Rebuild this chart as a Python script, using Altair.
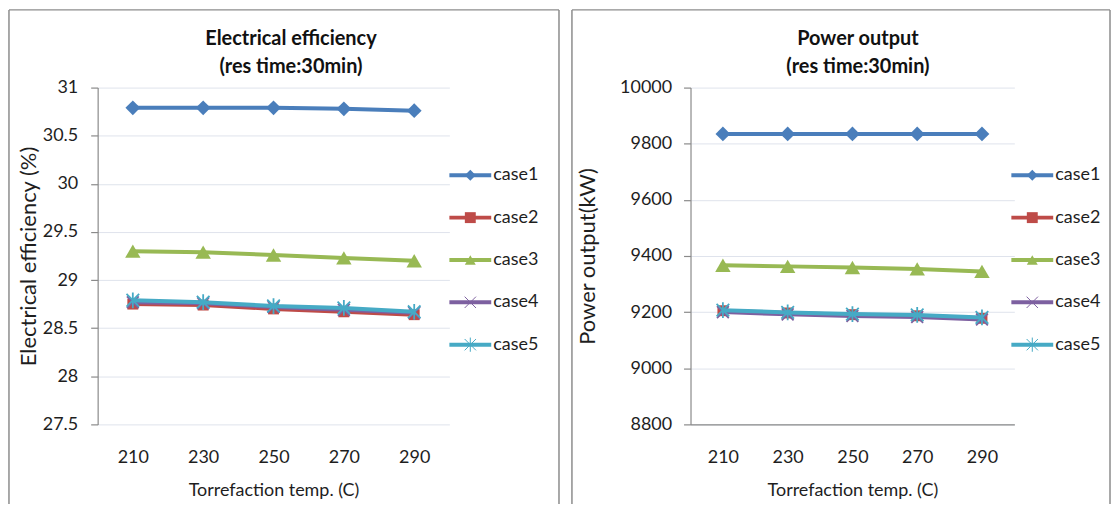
import altair as alt
import pandas as pd

# Torrefaction temperature categories (C)
temps = [210, 230, 250, 270, 290]
cases = ["case1", "case2", "case3", "case4", "case5"]

# Electrical efficiency (%) per case
eff_case1 = [30.79, 30.79, 30.79, 30.78, 30.76]
eff_case2 = [28.75, 28.74, 28.70, 28.67, 28.64]
eff_case3 = [29.30, 29.29, 29.26, 29.23, 29.20]
eff_case4 = [28.77, 28.76, 28.72, 28.69, 28.66]
eff_case5 = [28.79, 28.77, 28.73, 28.71, 28.67]

# Power output (kW) per case
pow_case1 = [9835, 9835, 9835, 9835, 9835]
pow_case2 = [9205, 9197, 9191, 9187, 9178]
pow_case3 = [9367, 9363, 9359, 9354, 9345]
pow_case4 = [9200, 9192, 9186, 9183, 9174]
pow_case5 = [9207, 9199, 9193, 9190, 9181]

eff_ticks = [27.5, 28, 28.5, 29, 29.5, 30, 30.5, 31]
pow_ticks = [8800, 9000, 9200, 9400, 9600, 9800, 10000]

colors = ["#4a7ebb", "#be4b48", "#98b954", "#7d60a0", "#46aac5"]
X_PATH = "M-1,-1L1,1M-1,1L1,-1"
STAR_PATH = "M-1,-1L1,1M-1,1L1,-1M0,-1.25L0,1.25"
shapes = ["diamond", "square", "triangle-up", X_PATH, STAR_PATH]
sizes = [220, 120, 240, 140, 160]
filled = [True, True, True, False, False]

FONT = "Lato"
TXT = "#1e1e1e"
GRID = "#dfe3ec"
AXIS = "#8a8a8a"
FRAME = "#8c8c8c"


def long_frame(series_lists):
    rows = []
    for name, vals in zip(cases, series_lists):
        for t, v in zip(temps, vals):
            rows.append({"temp": t, "series": name, "value": v})
    return pd.DataFrame(rows)


def panel(df, width, height, ticks, fmt, y_title, title_lines, title_x,
          x_domain, y_label_pad, y_title_pad, frame_left, frame_right,
          legend_x0):
    x_axis = alt.Axis(
        title="Torrefaction temp. (C)", labelAngle=0, ticks=False,
        domain=x_domain, domainColor=AXIS, domainWidth=1.2,
        labelFont=FONT, labelFontSize=18, labelColor=TXT, labelPadding=24,
        titleFont=FONT, titleFontSize=18, titleFontWeight="normal",
        titleColor=TXT, titlePadding=15, grid=False,
    )
    y_axis = alt.Axis(
        title=y_title, values=ticks, format=fmt,
        domain=True, domainColor=AXIS, domainWidth=1.2,
        ticks=True, tickColor=AXIS, tickSize=7, tickWidth=1.2,
        labelFont=FONT, labelFontSize=18, labelColor=TXT,
        labelPadding=y_label_pad,
        titleFont=FONT, titleFontSize=22, titleFontWeight="normal",
        titleColor=TXT, titlePadding=y_title_pad,
        grid=True, gridColor=GRID, gridWidth=1,
    )
    x_enc = alt.X("temp:O", axis=x_axis,
                  scale=alt.Scale(type="point", padding=0.5))
    y_enc = alt.Y("value:Q", axis=y_axis,
                  scale=alt.Scale(domain=[ticks[0], ticks[-1]],
                                  zero=False, nice=False))

    base = alt.Chart(df)
    series_layers = []
    for i, name in enumerate(cases):
        sub = base.transform_filter(alt.datum.series == name)
        series_layers.append(
            sub.mark_line(color=colors[i], strokeWidth=4).encode(
                x=x_enc, y=y_enc)
        )
        series_layers.append(
            sub.mark_point(
                shape=shapes[i], size=sizes[i], filled=filled[i],
                color=colors[i], opacity=1,
                strokeWidth=1.8 if not filled[i] else 0,
            ).encode(x=x_enc, y=y_enc)
        )
    data_layer = alt.layer(*series_layers)

    # legend: one row per case, line with its marker and the case name
    leg_df = pd.DataFrame({"series": cases})
    leg_base = alt.Chart(leg_df)
    leg_y = alt.Y("series:N", axis=None,
                  scale=alt.Scale(type="point", domain=cases,
                                  range=[88, 258], padding=0))
    leg_color = alt.Color("series:N", legend=None,
                          scale=alt.Scale(domain=cases, range=colors))
    leg_shape = alt.Shape("series:N", legend=None,
                          scale=alt.Scale(domain=cases, range=shapes))
    leg_rule = leg_base.mark_rule(strokeWidth=4).encode(
        x=alt.value(legend_x0), x2=alt.value(legend_x0 + 42),
        y=leg_y, color=leg_color)
    leg_pts_fill = leg_base.transform_filter(
        alt.FieldOneOfPredicate(field="series", oneOf=cases[:3])
    ).mark_point(filled=True, opacity=1, size=120).encode(
        x=alt.value(legend_x0 + 21), y=leg_y, color=leg_color,
        shape=leg_shape)
    leg_pts_line = leg_base.transform_filter(
        alt.FieldOneOfPredicate(field="series", oneOf=cases[3:])
    ).mark_point(filled=False, opacity=1, size=130, strokeWidth=1).encode(
        x=alt.value(legend_x0 + 21), y=leg_y, color=leg_color,
        shape=leg_shape)
    leg_text = leg_base.mark_text(
        align="left", baseline="middle", font=FONT, fontSize=18, color=TXT,
    ).encode(x=alt.value(legend_x0 + 44), y=leg_y, text="series:N")

    # chart frame (left, top and right edges) and the two-line title
    deco = alt.Chart(pd.DataFrame({"k": [0]}))
    frame = [
        deco.mark_rule(color=FRAME, strokeWidth=1.5).encode(
            x=alt.value(frame_left), y=alt.value(-78), y2=alt.value(418)),
        deco.mark_rule(color=FRAME, strokeWidth=1.5).encode(
            x=alt.value(frame_left), x2=alt.value(frame_right),
            y=alt.value(-78)),
        deco.mark_rule(color=FRAME, strokeWidth=1.5).encode(
            x=alt.value(frame_right), y=alt.value(-78), y2=alt.value(418)),
    ]
    titles = [
        deco.mark_text(font=FONT, fontSize=20, fontWeight="bold",
                       color="#111", align="center",
                       baseline="alphabetic").encode(
            x=alt.value(title_x), y=alt.value(-43),
            text=alt.value(title_lines[0])),
        deco.mark_text(font=FONT, fontSize=20, fontWeight="bold",
                       color="#111", align="center",
                       baseline="alphabetic").encode(
            x=alt.value(title_x), y=alt.value(-15),
            text=alt.value(title_lines[1])),
    ]

    legend_layer = alt.layer(leg_rule, leg_pts_fill, leg_pts_line, leg_text,
                             *frame, *titles)

    return alt.layer(data_layer, legend_layer).resolve_scale(
        y="independent"
    ).properties(width=width, height=height)


eff_df = long_frame([eff_case1, eff_case2, eff_case3, eff_case4, eff_case5])
pow_df = long_frame([pow_case1, pow_case2, pow_case3, pow_case4, pow_case5])

left = panel(
    eff_df, 353, 338, eff_ticks, "~g", "Electrical efficiency (%)",
    ["Electrical efficiency", "(res time:30min)"], 194,
    x_domain=False, y_label_pad=13, y_title_pad=2,
    frame_left=-89, frame_right=463, legend_x0=353,
)
right = panel(
    pow_df, 325, 338, pow_ticks, "d", "Power output(kW)",
    ["Power output", "(res time:30min)"], 168,
    x_domain=True, y_label_pad=12, y_title_pad=20,
    frame_left=-119, frame_right=421, legend_x0=322,
)

chart = alt.hconcat(left, right, spacing=9).properties(
    padding={"left": 7, "top": 7, "right": 0, "bottom": 0},
    background="white",
).configure_view(stroke="transparent")

chart.save("out.html", embed_options={"renderer": "svg", "actions": False})
